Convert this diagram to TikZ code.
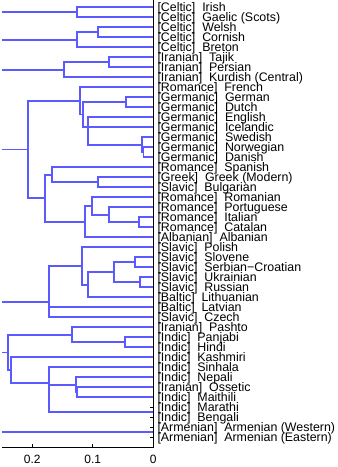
\documentclass[tikz,border=0pt]{standalone}
\usepackage{fontspec}
\setmainfont{Liberation Sans}
\definecolor{treeblue}{RGB}{90,90,255}
\begin{document}
\begin{tikzpicture}[x=1pt,y=-1pt,
  tree/.style={draw=treeblue, line width=1.7pt},
  axisline/.style={draw=black, line width=0.9pt},
  leaflabel/.style={anchor=base west, inner sep=0pt, font=\fontsize{12.4}{12.4}\selectfont},
  ticklabel/.style={anchor=base, inner sep=0pt, font=\fontsize{12}{12}\selectfont}]
\useasboundingbox (0,0) rectangle (338,467);
\def\ax{153.3}
\coordinate (xl) at (2.05,0);
% leaves and labels
\foreach \i/\g/\n in {
 0/Celtic/Irish, 1/Celtic/Gaelic (Scots), 2/Celtic/Welsh, 3/Celtic/Cornish, 4/Celtic/Breton,
 5/Iranian/Tajik, 6/Iranian/Persian, 7/Iranian/Kurdish (Central),
 8/Romance/French, 9/Germanic/German, 10/Germanic/Dutch, 11/Germanic/English,
 12/Germanic/Icelandic, 13/Germanic/Swedish, 14/Germanic/Norwegian, 15/Germanic/Danish,
 16/Romance/Spanish, 17/Greek/Greek (Modern), 18/Slavic/Bulgarian, 19/Romance/Romanian,
 20/Romance/Portuguese, 21/Romance/Italian, 22/Romance/Catalan, 23/Albanian/Albanian,
 24/Slavic/Polish, 25/Slavic/Slovene, 26/Slavic/Serbian−Croatian, 27/Slavic/Ukrainian,
 28/Slavic/Russian, 29/Baltic/Lithuanian, 30/Baltic/Latvian, 31/Slavic/Czech,
 32/Iranian/Pashto, 33/Indic/Panjabi, 34/Indic/Hindi, 35/Indic/Kashmiri, 36/Indic/Sinhala,
 37/Indic/Nepali, 38/Iranian/Ossetic, 39/Indic/Maithili, 40/Indic/Marathi, 41/Indic/Bengali,
 42/Armenian/Armenian (Western), 43/Armenian/Armenian (Eastern)}{
  \coordinate (L\i) at (\ax, {7.3+10*\i});
  \node[leaflabel] (t\i) at (157.3, {11.7+10*\i}) {[\g]\ \ \n};
  \draw[black, line width=0.6pt] (L\i) -- ++(-3,0);
}
% internal nodes
\coordinate (c1) at (77.3,12.3);
\coordinate (c2) at (98,32.3);
\coordinate (c3) at (77.3,39.8);
\coordinate (i1) at (108.7,62.3);
\coordinate (i2) at (64,69.8);
\coordinate (g1) at (125.7,102.3);
\coordinate (g2) at (143.5,152.3);
\coordinate (g3) at (141.7,144.8);
\coordinate (g4) at (87.7,136.05);
\coordinate (g5) at (87.7,126.7);
\coordinate (g6) at (82.7,114.5);
\coordinate (r0) at (80.3,100.9);
\coordinate (gb) at (98.3,182.3);
\coordinate (sp) at (52.3,174.8);
\coordinate (ro1) at (139.3,222.3);
\coordinate (ro2) at (109.3,214.8);
\coordinate (ro3) at (92.3,206.05);
\coordinate (al) at (85.3,221.7);
\coordinate (m1) at (45.3,198.25);
\coordinate (tp) at (28.3,149.6);
\coordinate (s1) at (135,262.3);
\coordinate (s2) at (140,282.3);
\coordinate (s3) at (113.7,272.3);
\coordinate (s4) at (88.3,284.8);
\coordinate (s5) at (82.3,266.05);
\coordinate (s6) at (49.3,286.7);
\coordinate (s7) at (49.3,302);
\coordinate (ph) at (125.3,342.3);
\coordinate (pa) at (72,334.8);
\coordinate (om) at (77.3,392.3);
\coordinate (ne) at (76,384.8);
\coordinate (mb) at (\ax,412.3);
\coordinate (nm) at (48.7,398.55);
\coordinate (si) at (48.7,382.9);
\coordinate (ks) at (11,370.1);
\coordinate (ii) at (8,352.45);
\coordinate (ar) at (\ax,432.3);
% connectors
\foreach \a/\b in {L0/c1, L1/c1, L2/c2, L3/c2, c2/c3, L4/c3,
  L5/i1, L6/i1, i1/i2, L7/i2,
  L9/g1, L10/g1, L14/g2, L15/g2, L13/g3, g2/g3, L12/g4, g3/g4, L11/g5, g4/g5,
  g1/g6, g5/g6, L8/r0, g6/r0,
  L17/gb, L18/gb, L16/sp, gb/sp, L21/ro1, L22/ro1, L20/ro2, ro1/ro2, L19/ro3, ro2/ro3,
  ro3/al, L23/al, sp/m1, al/m1, r0/tp, m1/tp,
  L25/s1, L26/s1, L27/s2, L28/s2, s1/s3, s2/s3, s3/s4, L29/s4, L24/s5, s4/s5,
  s5/s6, L30/s6, s6/s7, L31/s7,
  L33/ph, L34/ph, L32/pa, ph/pa, L38/om, L39/om, L37/ne, om/ne,
  ne/nm, mb/nm, L36/si, nm/si, L35/ks, si/ks, pa/ii, ks/ii}{
  \draw[tree] (\a) -| (\b);
}
% root stubs (clipped at the axis limit)
\foreach \r in {c1, c3, i2, tp, s7, ii, ar}{
  \draw[tree] (\r) -- (\r -| xl);
}
% axes
\draw[axisline] (\ax,0) -- (\ax,447.3) -- (2.05,447.3);
\draw[axisline] (32.3,447.3) -- ++(0,-3);
\draw[axisline] (92.8,447.3) -- ++(0,-3);
\node[ticklabel] (x2) at (32.3,463.3) {0.2};
\node[ticklabel] (x1) at (92.8,463.3) {0.1};
\node[ticklabel] (x0) at (\ax,463.3) {0};
\end{tikzpicture}
\end{document}
